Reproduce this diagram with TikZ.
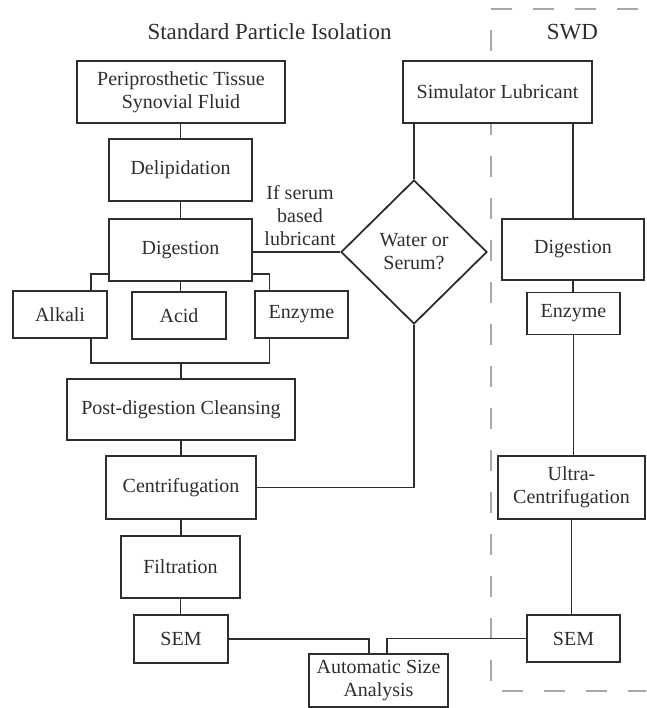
\documentclass[tikz,border=0pt]{standalone}
\usepackage{fontspec}
\setmainfont{Liberation Serif}
\usetikzlibrary{shapes.geometric}
\definecolor{ink}{HTML}{2E2E2E}
\definecolor{dashgray}{HTML}{A8A8A8}
\tikzset{
  box/.style={draw=ink, line width=1.8pt, fill=white, inner sep=0pt, align=center,
    text=ink, font=\fontsize{20}{23}\selectfont},
  conn/.style={draw=ink, line width=1.8pt},
  dia/.style={shape=diamond, draw=ink, line width=1.8pt, fill=white, inner sep=0pt,
    align=center, text=ink, font=\fontsize{20}{23}\selectfont},
  lbl/.style={text=ink, align=center, inner sep=0pt, font=\fontsize{20}{23}\selectfont},
  ttl/.style={text=ink, inner sep=0pt, font=\fontsize{23}{26}\selectfont},
}
\begin{document}
\begin{tikzpicture}[x=1pt, y=-1pt]
\useasboundingbox (0,0) rectangle (646,708);
\begin{scope}
  \clip (0,0) rectangle (646,708);
  \draw[dashgray, line width=1.8pt, dash pattern=on 21pt off 21pt]
    (680,9) -- (491,9) -- (491,691) -- (680,691);
\end{scope}

\node[ttl] (title) at (269.5,32) {Standard Particle Isolation};
\node[ttl] (swd) at (572.5,32) {SWD};

% left column
\node[box, minimum width=208pt, minimum height=62pt] (peri) at (181,92) {Periprosthetic Tissue\\Synovial Fluid};
\node[box, minimum width=143pt, minimum height=62pt] (delip) at (180.5,170) {Delipidation};
\node[box, minimum width=143pt, minimum height=62pt] (dig) at (180.5,250) {Digestion};
\node[box, minimum width=94pt, minimum height=47pt] (alkali) at (60,314.5) {Alkali};
\node[box, minimum width=94pt, minimum height=47pt] (acid) at (179,315.5) {Acid};
\node[box, minimum width=93pt, minimum height=47pt] (enzL) at (301.5,314.5) {Enzyme};
\node[box, minimum width=228pt, minimum height=61pt] (post) at (181,409.5) {Post-digestion Cleansing};
\node[box, minimum width=150pt, minimum height=63pt] (centL) at (181,487.5) {Centrifugation};
\node[box, minimum width=119pt, minimum height=62pt] (filt) at (180.5,567) {Filtration};
\node[box, minimum width=94pt, minimum height=48pt] (semL) at (181,639) {SEM};
\node[box, minimum width=139pt, minimum height=53pt] (auto) at (378.5,680.5) {Automatic Size\\Analysis};

% middle / right
\node[box, minimum width=189pt, minimum height=62pt] (sim) at (497.5,92) {Simulator Lubricant};
\node[dia, minimum width=146pt, minimum height=144pt] (water) at (414,252) {Water or\\Serum?};
\node[box, minimum width=142pt, minimum height=61pt] (digR) at (573,249.5) {Digestion};
\node[box, minimum width=93pt, minimum height=42pt] (enzR) at (573.5,313.5) {Enzyme};
\node[box, minimum width=147pt, minimum height=63pt] (ultra) at (571.5,487.5) {Ultra-\\Centrifugation};
\node[box, minimum width=93pt, minimum height=47pt] (semR) at (573.5,638.5) {SEM};

\node[lbl] (iflbl) at (300,216) {If serum\\based\\lubricant};

% connectors, left
\draw[conn] (peri.south -| delip.north) -- (delip.north);
\draw[conn] (delip.south) -- (delip.south |- dig.north);
\draw[conn] ([yshift=8pt]dig.south west) -| ([xshift=31pt]alkali.north);
\draw[conn] (dig.south) -- (dig.south |- acid.north);
\draw[conn] ([yshift=8pt]dig.south east) -| ([xshift=-32pt]enzL.north);
\draw[conn] ([xshift=31pt]alkali.south) -- ++(0,24) coordinate (brL) -| ([xshift=-32pt]enzL.south);
\draw[conn] (post.north) -- (post.north |- brL);
\draw[conn] (post.south) -- (post.south |- centL.north);
\draw[conn] (centL.south) -- (centL.south |- filt.north);
\draw[conn] (filt.south) -- (filt.south |- semL.north);
\draw[conn] (semL.east) -| ([xshift=-9.5pt]auto.north);
\draw[conn] (semR.west) -| ([xshift=8.5pt]auto.north);

% connectors, right
\draw[conn] (water.north |- sim.south) -- (water.north);
\draw[conn] (digR.north |- sim.south) -- (digR.north);
\draw[conn] (water.west) -- (water.west -| dig.east);
\draw[conn] (water.south) |- (centL.east);
\draw[conn] (digR.south) -- (digR.south |- enzR.north);
\draw[conn] (enzR.south) -- (enzR.south |- ultra.north);
\draw[conn] (ultra.south) -- (ultra.south |- semR.north);
\end{tikzpicture}
\end{document}
